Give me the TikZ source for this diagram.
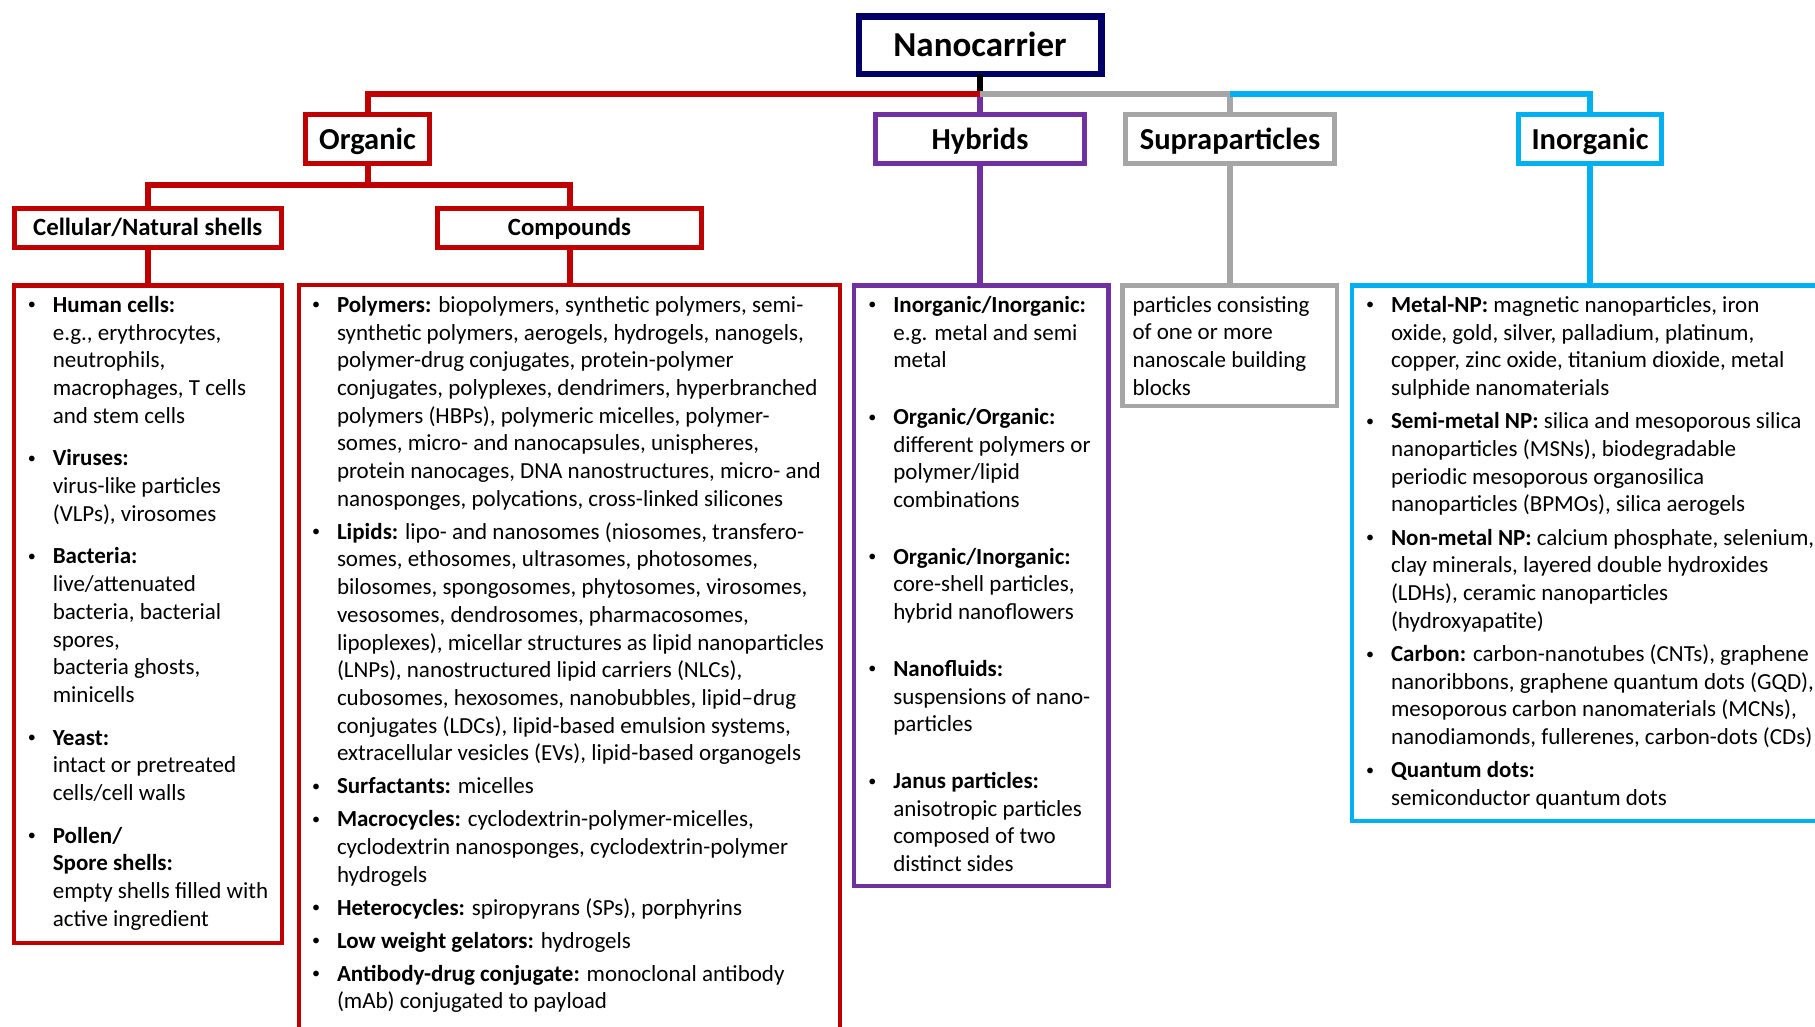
\documentclass[tikz,border=0pt]{standalone}
\usepackage{fontspec}
\setmainfont{Carlito}
\usepackage{array}
\definecolor{ored}{HTML}{C00000}
\definecolor{hpurple}{HTML}{7030A0}
\definecolor{sgray}{HTML}{A6A6A6}
\definecolor{iblue}{HTML}{00B0F0}
\definecolor{navyc}{HTML}{000066}
\newcommand{\bodyfont}{\fontsize{23pt}{27.7pt}\selectfont}
\newcommand{\bl}{\raisebox{2.4pt}{\scalebox{0.7}{\textbullet}}}
\begin{document}
\begin{tikzpicture}[x=1pt,y=-1pt,
  box/.style={draw, fill=white, outer sep=0pt, inner sep=0pt, line width=5pt},
  titlebox/.style={box, line width=6.5pt, draw=navyc, minimum width=242.5pt, minimum height=57.5pt, text height=24pt, text depth=2pt, font=\fontsize{35pt}{40pt}\selectfont\bfseries},
  lvtwo/.style={box, minimum height=49pt, text height=22pt, text depth=2pt, font=\fontsize{30.5pt}{36pt}\selectfont\bfseries},
  lvthree/.style={box, minimum height=39pt, text height=16pt, text depth=2pt, font=\fontsize{24.8pt}{30pt}\selectfont\bfseries},
  cbox/.style={draw, outer sep=0pt, inner sep=0pt, line width=4.5pt},
  txt/.style={anchor=north west, inner sep=0pt, outer sep=0pt, font=\bodyfont, align=left},
  conn/.style={line width=6pt},
]
\fill[white] (0,0) rectangle (1815,1026);
\useasboundingbox (0,0) rectangle (1815,1026);

% level 1 and 2
\node[titlebox] (nc) at (980,45) {Nanocarrier};
\node[lvtwo, draw=ored, minimum width=124pt] (org) at (367.5,139) {Organic};
\node[lvtwo, draw=hpurple, minimum width=209pt] (hyb) at (980,139) {Hybrids};
\node[lvtwo, draw=sgray, minimum width=209pt] (supra) at (1230,139) {Supraparticles};
\node[lvtwo, draw=iblue, minimum width=143pt] (inorg) at (1590,139) {Inorganic};
% level 3
\node[lvthree, draw=ored, minimum width=267.5pt] (cell) at (147.75,228) {Cellular/Natural shells};
\node[lvthree, draw=ored, minimum width=264pt] (comp) at (569.5,228) {Compounds};

% content boxes
\node[cbox, draw=ored, minimum width=268pt, minimum height=657.5pt] (cellbox) at (147.75,614) {};
\node[cbox, draw=ored, minimum width=541pt, minimum height=760pt] (compbox) at (569.4,665.1) {};
\node[cbox, draw=hpurple, minimum width=254.7pt, minimum height=600.5pt] (hybbox) at (981.3,585.5) {};
\node[cbox, draw=sgray, minimum width=214.5pt, minimum height=120.5pt] (suprabox) at (1229.5,345.5) {};
\node[cbox, draw=iblue, minimum width=477.75pt, minimum height=535.5pt] (inorgbox) at (1591.1,553) {};

% connectors
\coordinate (j) at (980,94);
\coordinate (jo) at (367.5,185);
\draw[conn, hpurple] (hyb.north) -- (j);
\draw[conn, black] (nc.south) -- (j);
\draw[conn, ored] (org.north) |- (j);
\draw[conn, sgray] (supra.north) |- (j);
\draw[conn, iblue] (inorg.north) |- (supra.north |- j);
\draw[conn, ored] (org.south) -- (jo);
\draw[conn, ored] (cell.north) |- (jo);
\draw[conn, ored] (comp.north) |- (jo);
\draw[conn, ored] (cell.south) -- (cellbox.north);
\draw[conn, ored] (comp.south) -- (comp.south |- compbox.north);
\draw[conn, hpurple] (hyb.south) -- (hyb.south |- hybbox.north);
\draw[conn, sgray] (supra.south) -- (supra.south |- suprabox.north);
\draw[conn, iblue] (inorg.south) -- (inorg.south |- inorgbox.north);

% texts
\node[txt] (cellt) at (27.8,292.9) {\begin{tabular}{@{}p{25pt}@{}l@{}}
\bl & \textbf{Human cells:}\\
 & e.g., erythrocytes,\\
 & neutrophils,\\
 & macrophages, T cells\\
 & and stem cells\\[15pt]
\bl & \textbf{Viruses:}\\
 & virus-like particles\\
 & (VLPs), virosomes\\[15pt]
\bl & \textbf{Bacteria:}\\
 & live/attenuated\\
 & bacteria, bacterial\\
 & spores,\\
 & bacteria ghosts,\\
 & minicells\\[15pt]
\bl & \textbf{Yeast:}\\
 & intact or pretreated\\
 & cells/cell walls\\[15pt]
\bl & \textbf{Pollen/}\\
 & \textbf{Spore shells:}\\
 & empty shells filled with\\
 & active ingredient
\end{tabular}};

\node[txt] (compt) at (312,292.9) {\begin{tabular}{@{}p{25pt}@{}l@{}}
\bl & \textbf{Polymers:} biopolymers, synthetic polymers, semi-\\
 & synthetic polymers, aerogels, hydrogels, nanogels,\\
 & polymer-drug conjugates, protein-polymer\\
 & conjugates, polyplexes, dendrimers, hyperbranched\\
 & polymers (HBPs), polymeric micelles, polymer-\\
 & somes, micro- and nanocapsules, unispheres,\\
 & protein nanocages, DNA nanostructures, micro- and\\
 & nanosponges, polycations, cross-linked silicones\\[5.3pt]
\bl & \textbf{Lipids:} lipo- and nanosomes (niosomes, transfero-\\
 & somes, ethosomes, ultrasomes, photosomes,\\
 & bilosomes, spongosomes, phytosomes, virosomes,\\
 & vesosomes, dendrosomes, pharmacosomes,\\
 & lipoplexes), micellar structures as lipid nanoparticles\\
 & (LNPs), nanostructured lipid carriers (NLCs),\\
 & cubosomes, hexosomes, nanobubbles, lipid–drug\\
 & conjugates (LDCs), lipid-based emulsion systems,\\
 & extracellular vesicles (EVs), lipid-based organogels\\[5.3pt]
\bl & \textbf{Surfactants:} micelles\\[5.3pt]
\bl & \textbf{Macrocycles:} cyclodextrin-polymer-micelles,\\
 & cyclodextrin nanosponges, cyclodextrin-polymer\\
 & hydrogels\\[5.3pt]
\bl & \textbf{Heterocycles:} spiropyrans (SPs), porphyrins\\[5.3pt]
\bl & \textbf{Low weight gelators:} hydrogels\\[5.3pt]
\bl & \textbf{Antibody-drug conjugate:} monoclonal antibody\\
 & (mAb) conjugated to payload
\end{tabular}};

\node[txt] (hybt) at (868.3,292.9) {\begin{tabular}{@{}p{25pt}@{}l@{}}
\bl & \textbf{Inorganic/Inorganic:}\\
 & e.g. metal and semi\\
 & metal\\[29pt]
\bl & \textbf{Organic/Organic:}\\
 & different polymers or\\
 & polymer/lipid\\
 & combinations\\[29pt]
\bl & \textbf{Organic/Inorganic:}\\
 & core-shell particles,\\
 & hybrid nanoflowers\\[29pt]
\bl & \textbf{Nanofluids:}\\
 & suspensions of nano-\\
 & particles\\[29pt]
\bl & \textbf{Janus particles:}\\
 & anisotropic particles\\
 & composed of two\\
 & distinct sides
\end{tabular}};

\node[txt] (suprat) at (1132.5,292.9) {\begin{tabular}{@{}l@{}}
particles consisting\\
of one or more\\
nanoscale building\\
blocks
\end{tabular}};

\node[txt] (inorgt) at (1366,292.9) {\begin{tabular}{@{}p{25pt}@{}l@{}}
\bl & \textbf{Metal-NP:} magnetic nanoparticles, iron\\
 & oxide, gold, silver, palladium, platinum,\\
 & copper, zinc oxide, titanium dioxide, metal\\
 & sulphide nanomaterials\\[5.6pt]
\bl & \textbf{Semi-metal NP:} silica and mesoporous silica\\
 & nanoparticles (MSNs), biodegradable\\
 & periodic mesoporous organosilica\\
 & nanoparticles (BPMOs), silica aerogels\\[5.6pt]
\bl & \textbf{Non-metal NP:} calcium phosphate, selenium,\\
 & clay minerals, layered double hydroxides\\
 & (LDHs), ceramic nanoparticles\\
 & (hydroxyapatite)\\[5.6pt]
\bl & \textbf{Carbon:} carbon-nanotubes (CNTs), graphene\\
 & nanoribbons, graphene quantum dots (GQD),\\
 & mesoporous carbon nanomaterials (MCNs),\\
 & nanodiamonds, fullerenes, carbon-dots (CDs)\\[5.6pt]
\bl & \textbf{Quantum dots:}\\
 & semiconductor quantum dots
\end{tabular}};
\end{tikzpicture}
\end{document}
